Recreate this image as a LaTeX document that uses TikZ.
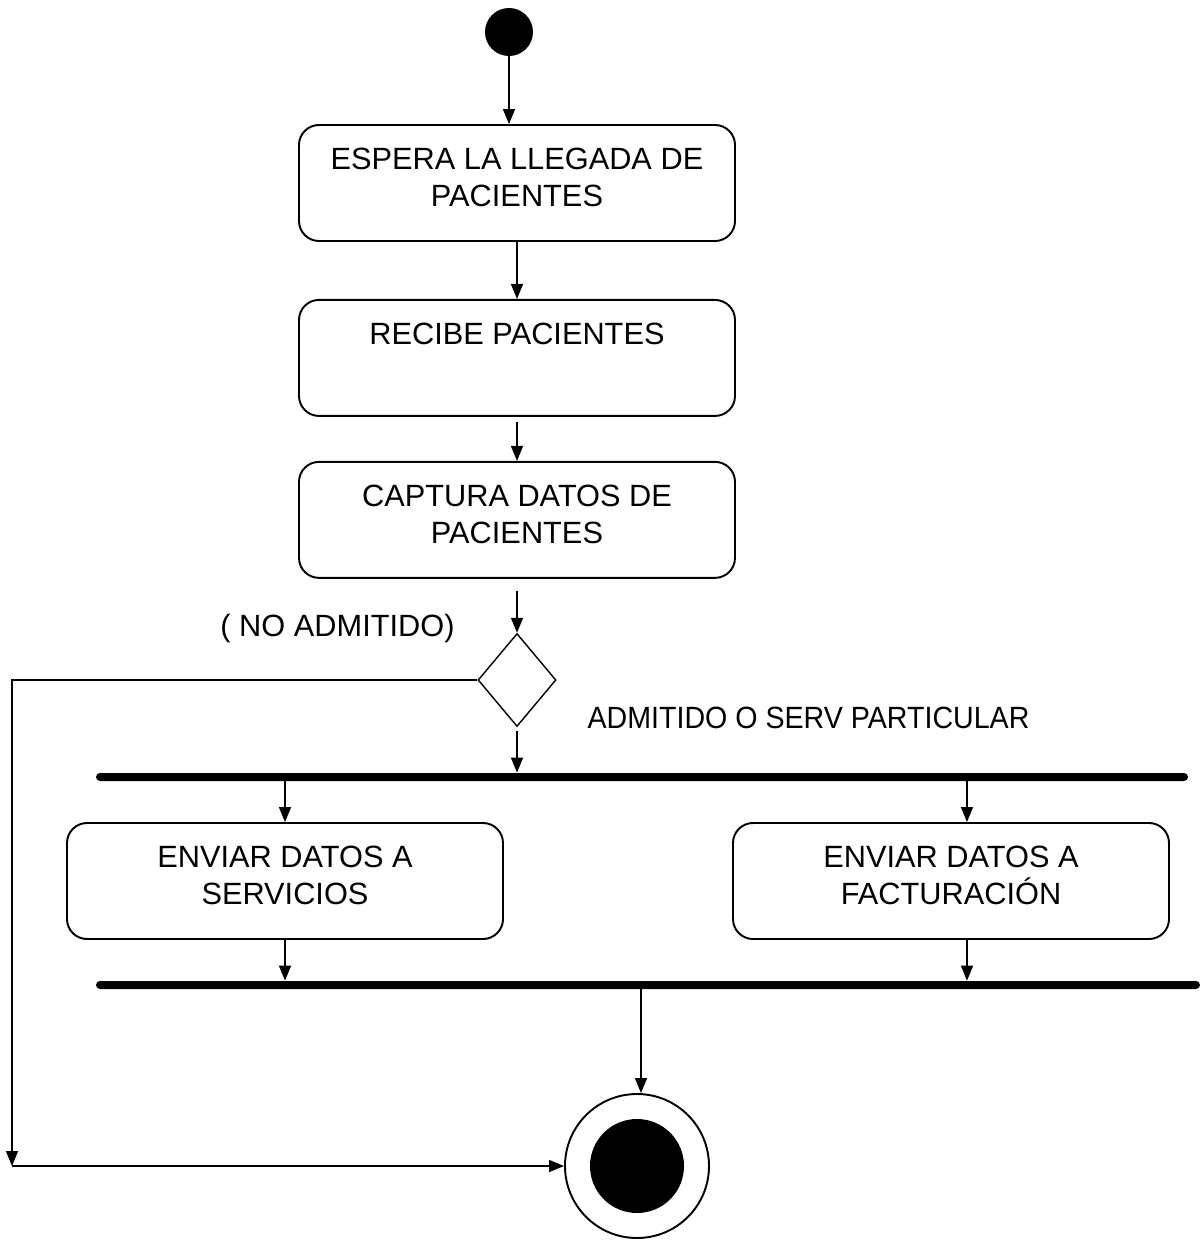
\documentclass[tikz,border=0pt]{standalone}
\usepackage{fontspec}
\setmainfont{Liberation Sans}
\usepackage{tikz}
\usetikzlibrary{shapes.geometric,arrows.meta,positioning}

\begin{document}
\begin{tikzpicture}[>={Triangle[length=0.3cm,width=0.24cm]},
  actividad/.style={rectangle, draw, line width=1.1pt, rounded corners=0.4cm, minimum width=8.72cm, minimum height=2.32cm, align=center, font=\fontsize{17.5}{21.5}\selectfont},
  flecha/.style={->, line width=0.85pt},
  barra/.style={rectangle, fill=black, rounded corners=0.08cm, minimum height=0.16cm, inner sep=0pt},
  etiqueta/.style={font=\fontsize{17.5}{21.5}\selectfont, inner sep=0pt, anchor=base}]
\useasboundingbox (0,0) rectangle (24.08,-24.88);
\node[circle, fill=black, minimum size=0.96cm, inner sep=0pt] (inicio) at (10.18,-0.64) {};
\node[actividad] (espera) at (10.34,-3.66) {ESPERA LA LLEGADA DE\\PACIENTES\strut};
\node[actividad, below=1.14cm of espera] (recibe) {RECIBE PACIENTES\\\strut};
\node[actividad, below=0.88cm of recibe] (captura) {CAPTURA DATOS DE\\PACIENTES\strut};
\node[diamond, draw, line width=0.8pt, minimum width=1.56cm, minimum height=1.86cm, inner sep=0pt] (dec) at (10.34,-13.6) {};
\node[etiqueta] (noadm) at (6.75,-12.72) {( NO ADMITIDO)};
\node[etiqueta] (adm) at (16.17,-14.56) {\scalebox{0.93}[1]{ADMITIDO O SERV PARTICULAR}};
\node[barra, minimum width=21.84cm] (fork) at (12.84,-15.54) {};
\node[actividad] (servicios) at (5.70,-17.62) {ENVIAR DATOS A\\SERVICIOS\strut};
\node[actividad] (factura) at (19.02,-17.62) {ENVIAR DATOS A\\FACTURACIÓN\strut};
\node[barra, minimum width=22.08cm] (join) at (12.96,-19.70) {};
\node[circle, draw, line width=1.1pt, minimum size=2.88cm, inner sep=0pt] (fin) at (12.74,-23.32) {};
\node[circle, fill=black, minimum size=1.88cm, inner sep=0pt] (finin) at (fin) {};
\coordinate (esq) at (0.24,-23.32);
% flujo principal
\draw[flecha] (inicio) -- (inicio |- espera.north);
\draw[flecha] (espera) -- (recibe);
\draw[flecha, shorten <=0.1cm] (recibe) -- (captura);
\draw[flecha, shorten <=0.24cm] (captura) -- (dec);
\draw[flecha, shorten <=0.08cm] (dec) -- (dec |- fork.north);
% fork / join
\draw[flecha] (servicios.north |- fork.south) -- (servicios.north);
\draw[flecha] ([xshift=0.32cm]factura.north |- fork.south) -- ([xshift=0.32cm]factura.north);
\draw[flecha] (servicios) -- (servicios.south |- join.north);
\draw[flecha] ([xshift=0.32cm]factura.south) -- ([xshift=0.32cm]factura.south |- join.north);
\draw[flecha] ([xshift=0.08cm]fin.north |- join.south) -- ([xshift=0.08cm]fin.north);
% no admitido
\draw[flecha] (dec.west) -| (esq);
\draw[flecha] (esq) -- (fin.west);
\end{tikzpicture}
\end{document}
